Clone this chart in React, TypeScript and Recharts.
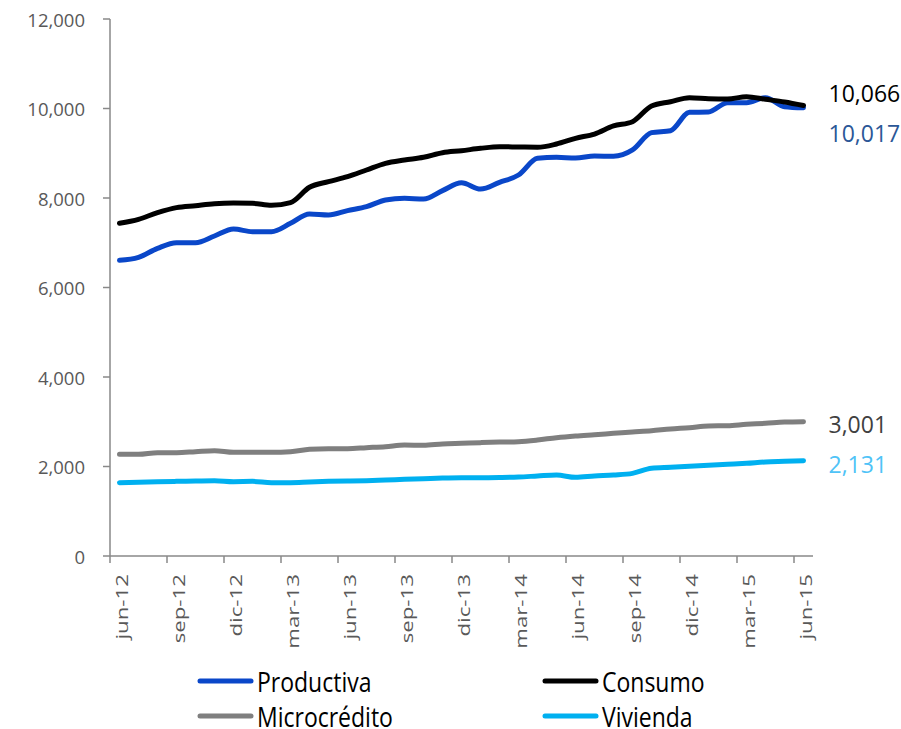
import React from "react";
import { LineChart, Line, XAxis, YAxis, Legend } from "recharts";

const months = [
  "jun-12", "jul-12", "ago-12", "sep-12", "oct-12", "nov-12", "dic-12",
  "ene-13", "feb-13", "mar-13", "abr-13", "may-13", "jun-13", "jul-13", "ago-13", "sep-13", "oct-13", "nov-13", "dic-13",
  "ene-14", "feb-14", "mar-14", "abr-14", "may-14", "jun-14", "jul-14", "ago-14", "sep-14", "oct-14", "nov-14", "dic-14",
  "ene-15", "feb-15", "mar-15", "abr-15", "may-15", "jun-15",
];

const productiva = [
  6607, 6674, 6875, 7002, 7002, 7151, 7307, 7248, 7248, 7434, 7642, 7620, 7717, 7806, 7955, 7993, 7978, 8164, 8340,
  8200, 8350, 8514, 8886, 8909, 8894, 8939, 8931, 9073, 9460, 9504, 9915, 9922, 10130, 10130, 10242, 10041, 10017,
];
const consumo = [
  7435, 7524, 7672, 7784, 7829, 7873, 7888, 7881, 7836, 7896, 8239, 8365, 8477, 8626, 8775, 8849, 8909, 9013, 9057,
  9110, 9145, 9140, 9135, 9207, 9334, 9430, 9609, 9706, 10056, 10152, 10242, 10220, 10212, 10264, 10205, 10145, 10066,
];
const microcredito = [
  2272, 2272, 2309, 2309, 2331, 2354, 2317, 2317, 2317, 2331, 2384, 2399, 2399, 2421, 2443, 2480, 2473, 2503, 2518,
  2533, 2545, 2555, 2592, 2644, 2682, 2711, 2741, 2771, 2800, 2838, 2868, 2905, 2912, 2942, 2964, 2994, 3001,
];
const vivienda = [
  1639, 1646, 1661, 1668, 1676, 1683, 1661, 1668, 1639, 1639, 1654, 1668, 1676, 1683, 1698, 1713, 1728, 1743, 1750,
  1750, 1755, 1765, 1788, 1810, 1758, 1788, 1810, 1847, 1959, 1981, 2004, 2026, 2049, 2071, 2101, 2116, 2131,
];

const yTicks = [0, 2000, 4000, 6000, 8000, 10000, 12000];
const xTickIndices = [0, 3, 6, 9, 12, 15, 18, 21, 24, 27, 30, 33, 36];

const seriesInfo = [
  { key: "productiva", name: "Productiva", color: "#0a47c9", labelColor: "#2b5797", labelDy: 25 },
  { key: "consumo", name: "Consumo", color: "#000000", labelColor: "#000000", labelDy: -13 },
  { key: "microcredito", name: "Microcrédito", color: "#7f7f7f", labelColor: "#404040", labelDy: 2 },
  { key: "vivienda", name: "Vivienda", color: "#00b0f0", labelColor: "#4fc3f7", labelDy: 3 },
];

const data = months.map((m, i) => ({
  i,
  month: m,
  productiva: productiva[i],
  consumo: consumo[i],
  microcredito: microcredito[i],
  vivienda: vivienda[i],
}));

const W = 901;
const H = 729;
const PLOT_LEFT = 110;
const PLOT_TOP = 19;
const PLOT_RIGHT = 813;
const PLOT_BOTTOM = 556;
const AXIS = "#898989";
const FONT = "'Open Sans', sans-serif";

const fmt = (v: number) => v.toLocaleString("en-US");

const XTick = (props: any) => {
  const { x, payload } = props;
  const half = (PLOT_RIGHT - PLOT_LEFT) / months.length / 2;
  return (
    <g>
      <line x1={x - half} x2={x - half} y1={PLOT_BOTTOM} y2={PLOT_BOTTOM + 7} stroke={AXIS} strokeWidth={1.5} />
      <text
        transform={`translate(${x + 8},${PLOT_BOTTOM + 18}) rotate(-90) scale(1.35,1)`}
        textAnchor="end"
        fontSize={16.5}
        fill="#595959"
        fontFamily={FONT}
      >
        {months[payload.value]}
      </text>
    </g>
  );
};

const YTick = (props: any) => {
  const { y, payload } = props;
  return (
    <g>
      <line x1={PLOT_LEFT - 7} x2={PLOT_LEFT} y1={y} y2={y} stroke={AXIS} strokeWidth={1.5} />
      <text
        x={PLOT_LEFT - 25}
        y={y}
        textAnchor="end"
        dominantBaseline="central"
        fontSize={18.5}
        fill="#595959"
        fontFamily={FONT}
      >
        {fmt(payload.value)}
      </text>
    </g>
  );
};

const makeEndLabel = (color: string, dy: number) => (props: any) => {
  if (props.index !== months.length - 1) return null;
  const x = props.x ?? props.viewBox?.x;
  const y = props.y ?? props.viewBox?.y;
  return (
    <text x={x + 25} y={y + dy} dominantBaseline="central" fill={color} fontSize={23} fontFamily={FONT}>
      {fmt(props.value)}
    </text>
  );
};

const legendCols = [198, 543];
const legendRows = [21, 56];

const LegendContent = () => (
  <svg width={W} height={69} style={{ overflow: "visible", display: "block" }}>
    {seriesInfo.map((s, k) => {
      const x = legendCols[k % 2];
      const y = legendRows[Math.floor(k / 2)];
      return (
        <g key={s.key}>
          <line x1={x + 2} x2={x + 53} y1={y} y2={y} stroke={s.color} strokeWidth={5} strokeLinecap="round" />
          <text
            transform={`translate(${x + 59},${y}) scale(1,1.17)`}
            dominantBaseline="central"
            fontSize={23}
            fill="#000"
            fontFamily={FONT}
          >
            {s.name}
          </text>
        </g>
      );
    })}
  </svg>
);

export default function App() {
  return (
    <div style={{ position: "absolute", left: 0, top: 0, width: W, height: H, background: "#fff" }}>
      <LineChart
        width={W}
        height={H}
        data={data}
        margin={{ top: PLOT_TOP, right: W - PLOT_RIGHT, bottom: 73, left: 0 }}
      >
        <XAxis
          type="number"
          dataKey="i"
          domain={[-0.5, months.length - 0.5]}
          ticks={xTickIndices}
          interval={0}
          tickLine={false}
          axisLine={{ stroke: AXIS, strokeWidth: 1.5 }}
          tick={<XTick />}
          height={H - PLOT_BOTTOM - 73}
        />
        <YAxis
          type="number"
          domain={[0, 12000]}
          ticks={yTicks}
          interval={0}
          width={PLOT_LEFT}
          tickLine={false}
          axisLine={{ stroke: AXIS, strokeWidth: 1.5 }}
          tick={<YTick />}
        />
        <Legend
          content={<LegendContent />}
          wrapperStyle={{ position: "absolute", top: 660, left: 0, width: W, height: 0 }}
        />
        {seriesInfo.map((s) => (
          <Line
            key={s.key}
            dataKey={s.key}
            name={s.name}
            type="monotone"
            stroke={s.color}
            strokeWidth={5}
            strokeLinecap="round"
            strokeLinejoin="round"
            dot={false}
            activeDot={false}
            isAnimationActive={false}
            label={makeEndLabel(s.labelColor, s.labelDy)}
          />
        ))}
      </LineChart>
    </div>
  );
}
